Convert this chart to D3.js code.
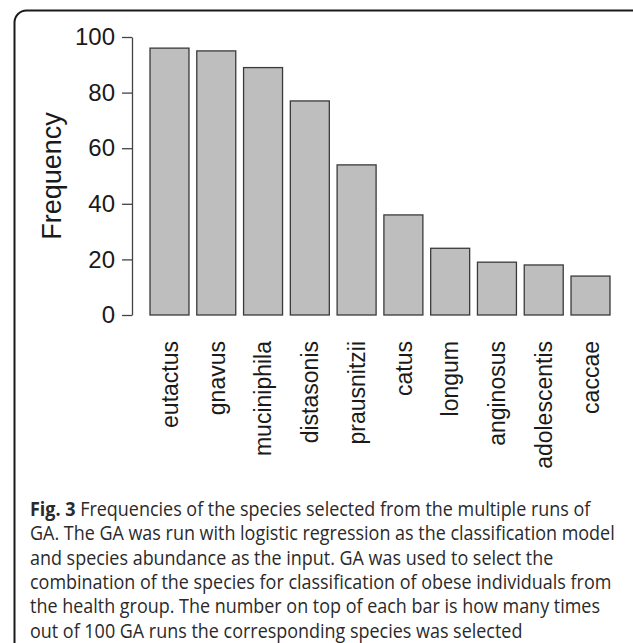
<!DOCTYPE html>
<html>
<head>
<meta charset="utf-8">
<script src="https://cdn.jsdelivr.net/npm/d3@7"></script>
<style>
  body { margin: 0; background: #fff; }
  svg { display: block; }
</style>
</head>
<body>
<div class="container"></div>
<script>
const w = 633;
const h = 643;

const species = ['eutactus', 'gnavus', 'muciniphila', 'distasonis', 'prausnitzii',
  'catus', 'longum', 'anginosus', 'adolescentis', 'caccae'];
const frequency = [96, 95, 89, 77, 54, 36, 24, 19, 18, 14];
const yTicks = [0, 20, 40, 60, 80, 100];
const yTitle = 'Frequency';
const figLabel = 'Fig. 3';
const captionLines = [
  ' Frequencies of the species selected from the multiple runs of',
  'GA. The GA was run with logistic regression as the classification model',
  'and species abundance as the input. GA was used to select the',
  'combination of the species for classification of obese individuals from',
  'the health group. The number on top of each bar is how many times',
  'out of 100 GA runs the corresponding species was selected',
];

const svg = d3.select('.container').append('svg')
  .attr('width', w)
  .attr('height', h);

// rounded frame, runs off the right and bottom edges
svg.append('rect')
  .attr('x', 14.5)
  .attr('y', 10.5)
  .attr('width', 660)
  .attr('height', 680)
  .attr('rx', 12)
  .attr('fill', 'none')
  .attr('stroke', '#1a1a1a')
  .attr('stroke-width', 2);

const x = d3.scaleBand()
  .domain(species)
  .range([150, 610])
  .paddingInner(1 / 6)
  .paddingOuter(0);

const y = d3.scaleLinear()
  .domain([0, 100])
  .range([315, 37]);

const plotData = species.map((s, i) => ({ name: s, value: frequency[i] }));

svg.selectAll('rect.bar').data(plotData).enter().append('rect')
  .attr('class', 'bar')
  .attr('x', (d) => x(d.name))
  .attr('y', (d) => y(d.value))
  .attr('width', x.bandwidth())
  .attr('height', (d) => y(0) - y(d.value))
  .attr('fill', '#bebebe')
  .attr('stroke', '#3a3a3a')
  .attr('stroke-width', 1.3);

const yAxis = svg.append('g')
  .attr('transform', 'translate(132,0)')
  .call(d3.axisLeft(y).tickValues(yTicks).tickSize(10).tickSizeOuter(0).tickPadding(7));

yAxis.select('.domain').attr('stroke', '#444').attr('stroke-width', 1.3);
yAxis.selectAll('.tick line').attr('stroke', '#444').attr('stroke-width', 1.3);
yAxis.selectAll('.tick text')
  .attr('font-family', 'Liberation Sans, Arial, sans-serif')
  .attr('font-size', 24)
  .attr('fill', '#1a1a1a');

svg.append('text')
  .attr('transform', 'translate(61,176) rotate(-90)')
  .attr('text-anchor', 'middle')
  .attr('font-family', 'Liberation Sans, Arial, sans-serif')
  .attr('font-size', 27)
  .attr('fill', '#1a1a1a')
  .text(yTitle);

svg.selectAll('text.cat').data(plotData).enter().append('text')
  .attr('class', 'cat')
  .attr('transform', (d) => `translate(${x(d.name) + x.bandwidth() / 2},341) rotate(-90)`)
  .attr('dy', '0.36em')
  .attr('text-anchor', 'end')
  .attr('font-family', 'Liberation Sans, Arial, sans-serif')
  .attr('font-size', 23)
  .attr('fill', '#1a1a1a')
  .text((d) => d.name);

// caption: Open Sans squeezed a little to get the narrower look of the original
const capSize = 19.5;
const cap = svg.append('g')
  .attr('font-family', 'Open Sans, Noto Sans, sans-serif')
  .attr('font-size', capSize)
  .attr('fill', '#2a2a2a');

const lines = cap.selectAll('text').data(captionLines).enter().append('text')
  .attr('x', 0)
  .attr('y', 0);

lines.each(function (d, i) {
  const t = d3.select(this);
  if (i === 0) {
    t.append('tspan').attr('font-weight', 'bold').text(figLabel);
  }
  t.append('tspan').text(d);
});

const probe = lines.filter((d, i) => i === 1).node();
const sx = 585 / probe.getComputedTextLength();
lines.attr('transform', (d, i) => `translate(30,${516 + i * 24.3}) scale(${sx},1)`);
</script>
</body>
</html>
